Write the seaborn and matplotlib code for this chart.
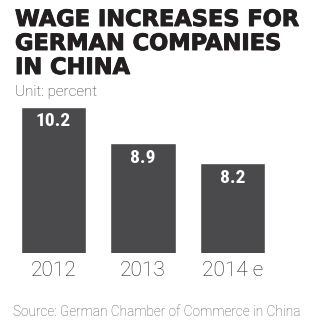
import matplotlib
matplotlib.use("Agg")
import matplotlib.pyplot as plt
import matplotlib.patheffects as pe
import seaborn as sns
import pandas as pd

years = ["2012", "2013", "2014 e"]
increases = [10.2, 8.9, 8.2]

title_lines = ["WAGE INCREASES FOR", "GERMAN COMPANIES", "IN CHINA"]
unit_text = "Unit: percent"
source_text = "Source: German Chamber of Commerce in China"

sns.set_theme(style="white")
plt.rcParams["font.family"] = ["Roboto", "DejaVu Sans"]

bar_color = "#4a494b"

df = pd.DataFrame({"year": years, "increase": increases})

W, H = 330, 325
fig = plt.figure(figsize=(W / 100, H / 100), dpi=100)
ax = fig.add_axes([8.75 / W, 72 / H, 268.5 / W, 153 / H])

sns.barplot(data=df, x="year", y="increase", color=bar_color, width=0.73,
            saturation=1, ax=ax)

ax.set_ylim(5, 10.44)
ax.set_xlim(-0.5, 2.5)
for s in ax.spines.values():
    s.set_visible(False)
ax.set_yticks([])
ax.set_xlabel("")
ax.set_ylabel("")
ax.tick_params(axis="x", length=0, pad=6, labelsize=15, colors="#222222")
for lbl in ax.get_xticklabels():
    lbl.set_fontweight("light")

for i, v in enumerate(increases):
    ax.annotate(f"{v}", xy=(i, v), xytext=(0, -4), textcoords="offset points",
                ha="center", va="top", color="white", fontsize=14,
                fontweight="bold", family=["Roboto Condensed", "Roboto", "DejaVu Sans"])

# three-line headline, one text per line at fixed baselines
heavy = [pe.withStroke(linewidth=0.7, foreground="#231f20")]
for line, base in zip(title_lines, [26, 50, 74]):
    fig.text(15 / W, 1 - base / H, line, ha="left", va="baseline",
             fontsize=16.2, fontweight="heavy", color="#231f20",
             family=["DejaVu Sans"], path_effects=heavy)

fig.text(15 / W, 1 - 96 / H, unit_text, ha="left", va="baseline",
         fontsize=11, fontweight="light", color="#333333")
fig.text(13 / W, 1 - 316 / H, source_text, ha="left", va="baseline",
         fontsize=9.8, fontweight="light", color="#555555")

fig.savefig("out.png", dpi=100)
